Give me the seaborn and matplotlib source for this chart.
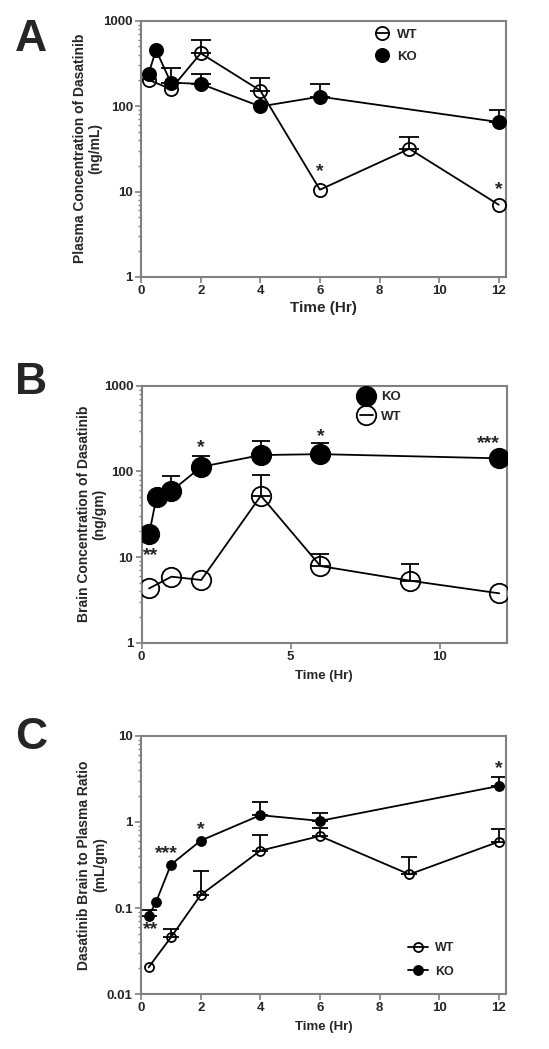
import numpy as np
import pandas as pd
import matplotlib
matplotlib.use("Agg")
import matplotlib.pyplot as plt
import matplotlib.ticker as mticker
import seaborn as sns

sns.set_style("white")
plt.rcParams['font.family'] = ['Liberation Sans', 'DejaVu Sans']
plt.rcParams['font.weight'] = 'bold'

# Panel A - plasma concentration (ng/mL)
a_wt_time = [0.25, 1, 2, 4, 6, 9, 12]
a_wt_mean = [203, 158, 415, 152, 10.5, 31.6, 7.0]
a_wt_upper = [np.nan, np.nan, 594, 212, np.nan, 43, np.nan]
a_ko_time = [0.25, 0.5, 1, 2, 4, 6, 12]
a_ko_mean = [238, 454, 188, 182, 99, 129, 65]
a_ko_upper = [np.nan, np.nan, 277, 238, np.nan, 182, 90]

# Panel B - brain concentration (ng/gm)
b_ko_time = [0.25, 0.5, 1, 2, 4, 6, 12]
b_ko_mean = [18.4, 50.6, 59, 113, 155, 159, 142]
b_ko_upper = [np.nan, np.nan, 88, 151, 226, 212, np.nan]
b_wt_time = [0.25, 1, 2, 4, 6, 9, 12]
b_wt_mean = [4.3, 5.9, 5.4, 52, 7.85, 5.3, 3.77]
b_wt_upper = [np.nan, np.nan, np.nan, 90.6, 10.8, 8.2, np.nan]

# Panel C - brain to plasma ratio (mL/gm)
c_wt_time = [0.25, 1, 2, 4, 6, 9, 12]
c_wt_mean = [0.0204, 0.0456, 0.1416, 0.464, 0.687, 0.246, 0.59]
c_wt_upper = [np.nan, 0.0565, 0.269, 0.713, 0.844, 0.388, 0.82]
c_ko_time = [0.25, 0.5, 1, 2, 4, 6, 12]
c_ko_mean = [0.0807, 0.117, 0.319, 0.607, 1.2, 1.03, 2.62]
c_ko_upper = [0.095, np.nan, np.nan, np.nan, 1.69, 1.26, 3.37]

GRAY = '#808080'


def draw_series(ax, t, m, up, label, filled, ms, cap):
    df = pd.DataFrame({'Time': t, 'Value': m})
    up = np.array(up, dtype=float)
    m = np.array(m, dtype=float)
    err = np.where(np.isnan(up), 0, up - m)
    ok = ~np.isnan(up)
    ax.errorbar(np.array(t)[ok], m[ok], yerr=[np.zeros(ok.sum()), err[ok]],
                fmt='none', ecolor='black', elinewidth=1.3, capsize=cap,
                capthick=1.3, zorder=2)
    sns.lineplot(data=df, x='Time', y='Value', ax=ax, color='black',
                 linewidth=1.3, marker='o', markersize=ms,
                 markerfacecolor='black' if filled else 'none',
                 markeredgecolor='black', markeredgewidth=1.3,
                 label=label, zorder=3)


def style_axes(ax, ylim, yticks, yticklabels, xticks, ylabel, xlabel, xfs,
               xpad, ypad):
    ax.set_yscale('log')
    ax.set_ylim(*ylim)
    ax.set_xlim(0, 12.25)
    ax.set_yticks(yticks)
    ax.set_yticklabels(yticklabels)
    ax.yaxis.set_minor_locator(mticker.LogLocator(base=10, subs=np.arange(2, 10)))
    ax.yaxis.set_minor_formatter(mticker.NullFormatter())
    ax.set_xticks(xticks)
    for s in ax.spines.values():
        s.set_color(GRAY)
        s.set_linewidth(1.5)
    ax.tick_params(axis='both', which='major', direction='out', length=4,
                   width=1.2, color=GRAY, labelsize=9.5, pad=2)
    ax.tick_params(axis='y', which='minor', direction='out', length=2.5,
                   width=1, color=GRAY, left=True)
    ax.tick_params(left=True, bottom=True)
    for lab in ax.get_xticklabels() + ax.get_yticklabels():
        lab.set_fontweight('bold')
    ax.set_ylabel(ylabel, fontsize=10, fontweight='bold', labelpad=ypad,
                  linespacing=1.15)
    ax.set_xlabel(xlabel, fontsize=xfs, fontweight='bold', labelpad=xpad)


def star(ax, x, y, s):
    ax.text(x, y, s, ha='center', va='center', fontsize=14, fontweight='bold')


fig = plt.figure(figsize=(5.49, 10.49), dpi=100)

# ---------- A ----------
axA = fig.add_axes([0.257, 0.736, 0.665, 0.2443])
draw_series(axA, a_wt_time, a_wt_mean, a_wt_upper, 'WT', False, 9.5, 7)
draw_series(axA, a_ko_time, a_ko_mean, a_ko_upper, 'KO', True, 9.5, 7)
style_axes(axA, (1, 1000), [1, 10, 100, 1000], ['1', '10', '100', '1000'],
           [0, 2, 4, 6, 8, 10, 12],
           'Plasma Concentration of Dasatinib\n(ng/mL)', 'Time (Hr)', 11, 3, 0.5)
star(axA, 6, 17, '*')
star(axA, 12, 10.5, '*')
axA.legend(loc='upper left', bbox_to_anchor=(0.61, 1.015), frameon=False,
           handlelength=1.0, handletextpad=0.6, labelspacing=0.75,
           prop={'weight': 'bold', 'size': 9.5})

# ---------- B ----------
axB = fig.add_axes([0.258, 0.3873, 0.665, 0.245])
draw_series(axB, b_ko_time, b_ko_mean, b_ko_upper, 'KO', True, 14, 6.5)
draw_series(axB, b_wt_time, b_wt_mean, b_wt_upper, 'WT', False, 14, 6.5)
style_axes(axB, (1, 1000), [1, 10, 100, 1000], ['1', '10', '100', '1000'],
           [0, 5, 10],
           'Brain Concentration of Dasatinib\n(ng/gm)', 'Time (Hr)', 9.5, 5, -2)
star(axB, 0.3, 10.3, '**')
star(axB, 2, 190, '*')
star(axB, 6, 254, '*')
star(axB, 11.65, 212, '***')
axB.legend(loc='upper left', bbox_to_anchor=(0.565, 1.025), frameon=False,
           handlelength=1.0, handletextpad=0.6, labelspacing=0.55,
           prop={'weight': 'bold', 'size': 9.5})

# ---------- C ----------
axC = fig.add_axes([0.257, 0.0524, 0.665, 0.246])
draw_series(axC, c_wt_time, c_wt_mean, c_wt_upper, 'WT', False, 6.5, 5.5)
draw_series(axC, c_ko_time, c_ko_mean, c_ko_upper, 'KO', True, 6.5, 5.5)
style_axes(axC, (0.01, 10), [0.01, 0.1, 1, 10], ['0.01', '0.1', '1', '10'],
           [0, 2, 4, 6, 8, 10, 12],
           'Dasatinib Brain to Plasma Ratio\n(mL/gm)', 'Time (Hr)', 9.5, 5, 0)
star(axC, 0.33, 0.0555, '**')
star(axC, 0.86, 0.425, '***')
star(axC, 2, 0.822, '*')
star(axC, 12, 4.13, '*')
axC.legend(loc='lower right', bbox_to_anchor=(0.89, 0.02), frameon=False,
           handlelength=1.6, handletextpad=0.6, labelspacing=0.9,
           prop={'weight': 'bold', 'size': 9})

# panel letters
fig.text(0.027, 0.962, 'A', fontsize=32, fontweight='bold', va='center')
fig.text(0.027, 0.635, 'B', fontsize=32, fontweight='bold', va='center')
fig.text(0.027, 0.297, 'C', fontsize=32, fontweight='bold', va='center')

fig.savefig('out.png', dpi=100)
